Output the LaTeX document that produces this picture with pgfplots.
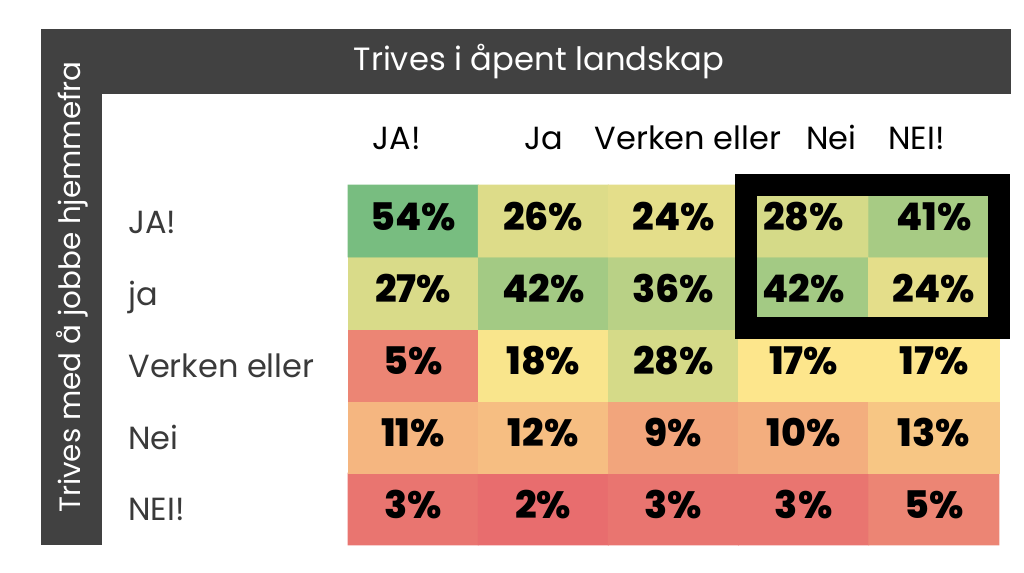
\documentclass[border=0pt]{standalone}
\usepackage{fontspec}
\setmainfont{Poppins}
\IfFontExistsTF{Poppins ExtraBold}{\newfontfamily\numfont{Poppins ExtraBold}}{%
  \IfFontExistsTF{Poppins Black}{\newfontfamily\numfont{Poppins Black}}{\newcommand\numfont{\bfseries}}}
\usepackage{pgfplots}
\usepackage{pgfplotstable}
\pgfplotsset{compat=1.18}
\definecolor{framegray}{HTML}{414141}
\definecolor{rowgray}{HTML}{3A3A3A}

% one row per cell: column, row (0 = NEI! at the bottom), percent
\pgfplotstableread{
x y v
0 0 3
1 0 2
2 0 3
3 0 3
4 0 5
0 1 11
1 1 12
2 1 9
3 1 10
4 1 13
0 2 5
1 2 18
2 2 28
3 2 17
4 2 17
0 3 27
1 3 42
2 3 36
3 3 42
4 3 24
0 4 54
1 4 26
2 4 24
3 4 28
4 4 41
}\cells

\begin{document}
\begin{tikzpicture}
\useasboundingbox (0,0) rectangle (512pt,286.5pt);
\fill[framegray] (20.5pt,239.5pt) rectangle (505.5pt,272pt);
\fill[framegray] (20.5pt,14pt) rectangle (50.75pt,272pt);
\node[white, font=\fontsize{16.1}{19}\selectfont, anchor=base, inner sep=0pt]
  at (269.5pt,251.4pt) {Trives i åpent landskap};
\node[white, font=\fontsize{14.7}{17}\selectfont, rotate=90, anchor=base, inner sep=0pt]
  at (40pt,143pt) {Trives med å jobbe hjemmefra};
\begin{axis}[
  at={(174pt,14pt)}, anchor=south west,
  scale only axis, width=325.5pt, height=180pt,
  xmin=-0.5, xmax=4.5, ymin=-0.5, ymax=4.5,
  clip=false,
  axis line style={draw=none},
  tick style={draw=none},
  major tick length=0pt,
  xtick={-0.124,1.005,2.111,3.213,3.866},
  xticklabels={JA!,Ja,Verken eller,Nei,NEI!},
  xticklabel pos=top,
  xticklabel style={anchor=base, yshift=18pt, inner sep=0pt,
    font=\fontsize{16}{19}\selectfont, text=black},
  ytick={0,...,4},
  yticklabels={NEI!,Nei,Verken eller,ja,JA!},
  yticklabel style={anchor=base west, inner sep=0pt, xshift=-110pt, yshift=-6pt,
    font=\fontsize{16}{19}\selectfont, text=rowgray},
  colormap={heat}{rgb255(0pt)=(232,109,110) rgb255(15pt)=(253,230,140) rgb255(52pt)=(120,189,128)},
  point meta min=2, point meta max=54,
]
\addplot[matrix plot*, mesh/cols=5, point meta=explicit]
  table[x=x, y=y, meta=v] {\cells};
\addplot[only marks, mark=none, point meta=explicit,
  nodes near coords={\pgfmathprintnumber[assume math mode=true]{\pgfplotspointmeta}\%},
  nodes near coords style={anchor=center, text=black, yshift=2pt,
    font=\numfont\fontsize{19}{22}\selectfont}]
  table[x=x, y=y, meta=v] {\cells};
\draw[black, line width=11pt] (axis cs:2.56,2.514) rectangle (axis cs:4.5,4.5);
\end{axis}
\end{tikzpicture}
\end{document}
